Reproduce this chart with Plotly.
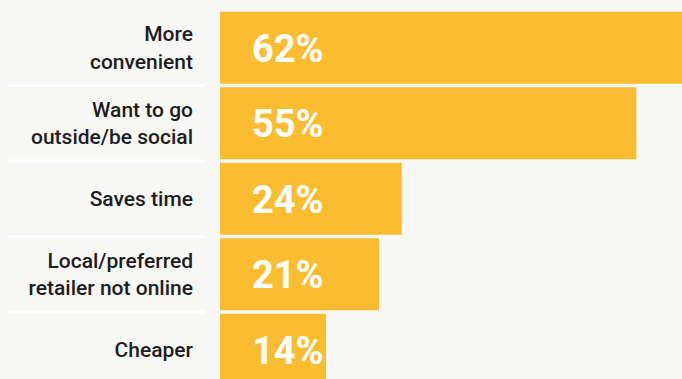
import plotly.graph_objects as go

categories = ["More<br>convenient", "Want to go<br>outside/be social", "Saves time",
              "Local/preferred<br>retailer not online", "Cheaper"]
values = [62, 55, 24, 21, 14]
value_labels = ["62%", "55%", "24%", "21%", "14%"]

BG = "#f7f7f5"
BAR = "#fabd31"
TXT = "#1e1c1d"

W, H = 682, 379
L, T = 220, 10
px_per_pct = 7.57
plot_w = W - L
x_max = plot_w / px_per_pct
row_px = 75.5
plot_h = H - T
y_span = plot_h / row_px

idx = list(range(len(categories)))

fig = go.Figure(go.Bar(
    x=values, y=idx, orientation="h",
    marker=dict(color=BAR, line=dict(width=0)),
    hoverinfo="skip",
))

for i, lab in zip(idx, value_labels):
    fig.add_annotation(x=0, y=i, xref="x", yref="y", text=lab, showarrow=False,
                       xanchor="left", yanchor="middle", xshift=30, yshift=-1,
                       font=dict(family="Roboto", size=38, color="white", weight="bold"))

for i in idx[:-1]:
    fig.add_shape(type="line", xref="paper", yref="y",
                  x0=(8 - L) / plot_w, x1=(205 - L) / plot_w, y0=i + 0.5, y1=i + 0.5,
                  line=dict(color="white", width=3))

fig.update_layout(
    width=W, height=H,
    margin=dict(l=L, r=0, t=T, b=0),
    paper_bgcolor=BG, plot_bgcolor=BG,
    bargap=0.047,
    showlegend=False,
    xaxis=dict(range=[0, x_max], visible=False, fixedrange=True),
    yaxis=dict(range=[-0.5 + y_span, -0.5], tickmode="array", tickvals=idx,
               ticktext=categories, showgrid=False, zeroline=False, showline=False,
               ticks="", ticklabelstandoff=26,
               tickfont=dict(family="Roboto", size=21, color=TXT, weight=500)),
)

fig.write_html("out.html")
